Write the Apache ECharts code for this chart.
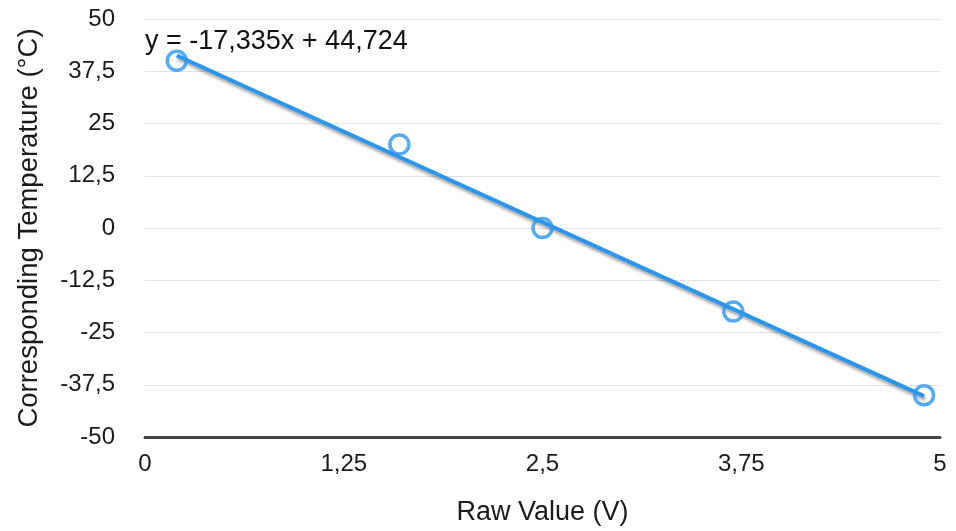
<!DOCTYPE html>
<html><head><meta charset="utf-8">
<script src="https://cdn.jsdelivr.net/npm/echarts@6/dist/echarts.min.js"></script>
<style>html,body{margin:0;padding:0;background:#fff}#c{width:956px;height:531px}</style>
</head><body><div id="c"></div>
<script>
const rawValues = [0.2, 1.6, 2.5, 3.7, 4.9];
const temperatures = [40, 20, 0, -20, -40];
const xTicks = [0, 1.25, 2.5, 3.75, 5];
const yTicks = [-50, -37.5, -25, -12.5, 0, 12.5, 25, 37.5, 50];

// least squares fit from data
const n = rawValues.length;
const mx = rawValues.reduce((a,b)=>a+b,0)/n;
const my = temperatures.reduce((a,b)=>a+b,0)/n;
let sxy=0,sxx=0;
for(let i=0;i<n;i++){sxy+=(rawValues[i]-mx)*(temperatures[i]-my);sxx+=(rawValues[i]-mx)**2;}
const slope = sxy/sxx, intercept = my - slope*mx;
const xmin = Math.min(...rawValues), xmax = Math.max(...rawValues);
const trend = [[xmin, slope*xmin+intercept],[xmax, slope*xmax+intercept]];
const fmt = v => String(v).replace('.', ',');
const eq = 'y = ' + fmt(slope.toFixed(3)) + 'x + ' + fmt(intercept.toFixed(3));

const FONT = 'Liberation Sans, Arial, Helvetica, sans-serif';
const BLUE = '#2b96ef';
const chart = echarts.init(document.getElementById('c'));
chart.setOption({
  animation:false,
  title:{text:eq,left:145,top:28,padding:0,textStyle:{fontFamily:FONT,fontSize:27,fontWeight:'normal',color:'#111'}},
  grid:{left:145,right:16,top:19,bottom:91},
  xAxis:{type:'value',min:xTicks[0],max:xTicks[xTicks.length-1],interval:1.25,
    name:'Raw Value (V)',nameLocation:'middle',nameGap:62,
    nameTextStyle:{fontFamily:FONT,fontSize:27,color:'#1a1a1a'},
    axisLine:{show:true,onZero:false,lineStyle:{color:'#444',width:3}},axisTick:{show:false},
    splitLine:{show:false},
    axisLabel:{fontFamily:FONT,fontSize:24,color:'#1a1a1a',margin:15,formatter:fmt}},
  yAxis:{type:'value',min:yTicks[0],max:yTicks[yTicks.length-1],interval:12.5,
    name:'Corresponding Temperature (°C)',nameLocation:'middle',nameGap:102,
    nameTextStyle:{fontFamily:FONT,fontSize:27.5,color:'#1a1a1a'},
    axisLine:{show:false},axisTick:{show:false},
    splitLine:{show:true,lineStyle:{color:'#e2e2e2',width:1}},
    axisLabel:{fontFamily:FONT,fontSize:24,color:'#1a1a1a',margin:30,formatter:fmt}},
  series:[
    {type:'line',data:trend,symbol:'none',silent:true,z:2,
      lineStyle:{color:BLUE,width:4,shadowColor:'rgba(0,0,0,0.35)',shadowBlur:3,shadowOffsetX:1,shadowOffsetY:3}},
    {type:'scatter',data:rawValues.map((x,i)=>[x,temperatures[i]]),symbol:'circle',symbolSize:19,z:3,
      itemStyle:{color:'rgba(255,255,255,0)',borderColor:BLUE,borderWidth:3.5}}
  ]
});
</script></body></html>
